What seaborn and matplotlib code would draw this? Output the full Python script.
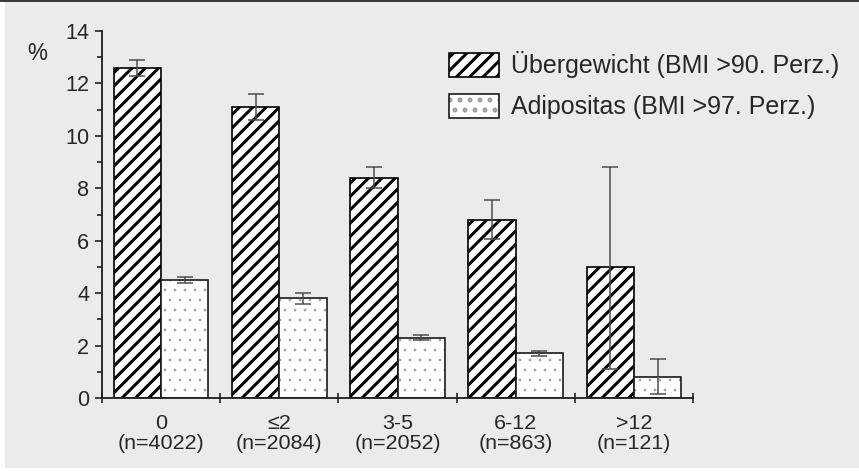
import matplotlib
matplotlib.use("Agg")
import matplotlib.pyplot as plt
from matplotlib.patches import Patch, Rectangle
from matplotlib.legend_handler import HandlerTuple
from matplotlib.ticker import MultipleLocator, FixedLocator
import numpy as np
import pandas as pd
import seaborn as sns

# Dauer (Jahre) und Fallzahlen
categories = ["0", "≤2", "3-5", "6-12", ">12"]
n_counts = [4022, 2084, 2052, 863, 121]
series_names = ["Übergewicht (BMI >90. Perz.)", "Adipositas (BMI >97. Perz.)"]

uebergewicht = [12.6, 11.1, 8.4, 6.8, 5.0]
uebergewicht_lo = [12.3, 10.6, 8.0, 6.05, 1.1]
uebergewicht_hi = [12.9, 11.6, 8.8, 7.55, 8.8]

adipositas = [4.5, 3.8, 2.3, 1.7, 0.8]
adipositas_lo = [4.4, 3.6, 2.2, 1.6, 0.15]
adipositas_hi = [4.6, 4.0, 2.4, 1.8, 1.48]

tick_labels = [f"{c}\n(n={n})" for c, n in zip(categories, n_counts)]

sns.set_style("ticks")
plt.rcParams["font.family"] = ["Liberation Sans", "DejaVu Sans"]
plt.rcParams["hatch.linewidth"] = 1.8

DOT_GREY = "#a2a2a2"
DOT_LW = 0.45


def thin_hatch(patch, lw):
    if hasattr(patch, "set_hatch_linewidth"):
        patch.set_hatch_linewidth(lw)
    else:
        patch._hatch_linewidth = lw


DPI = 120
fig = plt.figure(figsize=(859 / DPI, 471 / DPI), dpi=DPI, facecolor="white")

# grey panel with dark top rule
fig.patches.append(Rectangle((5 / 859, 3 / 471), 1 - 5 / 859, 1 - 5 / 471,
                             transform=fig.transFigure, facecolor="#ebebeb",
                             edgecolor="none", zorder=-10))
fig.patches.append(Rectangle((0, 1 - 2 / 471), 1, 2 / 471,
                             transform=fig.transFigure, facecolor="#3a3a3a",
                             edgecolor="none", zorder=-9))

ax = fig.add_axes([102 / 859, 1 - 398 / 471, (693 - 102) / 859, (398 - 31) / 471])
ax.set_facecolor("none")

df = pd.DataFrame({
    "Dauer": tick_labels * 2,
    "Prozent": uebergewicht + adipositas,
    "Gruppe": [series_names[0]] * 5 + [series_names[1]] * 5,
})

sns.barplot(data=df, x="Dauer", y="Prozent", hue="Gruppe", order=tick_labels,
            hue_order=series_names, palette=["white", "white"], errorbar=None,
            width=0.8, gap=0, legend=False, ax=ax, saturation=1)

hatched, dotted = ax.containers[0], ax.containers[1]
for p in hatched:
    p.set_hatch("///")
    p.set_edgecolor("black")
    p.set_linewidth(1.0)
for p in dotted:
    p.set_hatch("..")
    p.set_edgecolor(DOT_GREY)
    p.set_linewidth(0)
    thin_hatch(p, DOT_LW)
    outline = Rectangle(p.get_xy(), p.get_width(), p.get_height(), fill=False,
                        edgecolor="#1a1a1a", linewidth=1.0, zorder=p.get_zorder() + 0.1)
    ax.add_patch(outline)

# error bars
for cont, vals, lo, hi in [(hatched, uebergewicht, uebergewicht_lo, uebergewicht_hi),
                           (dotted, adipositas, adipositas_lo, adipositas_hi)]:
    xs = [p.get_x() + p.get_width() / 2 for p in cont]
    v = np.array(vals)
    yerr = [v - np.array(lo), np.array(hi) - v]
    ax.errorbar(xs, v, yerr=yerr, fmt="none", ecolor="#4a4a4a", elinewidth=0.9,
                capsize=5, capthick=0.9, zorder=5)

ax.set_xlim(-0.5, 4.5)
ax.set_ylim(0, 14)
ax.set_xlabel("")
ax.set_ylabel("")
sns.despine(ax=ax)
for s in ["left", "bottom"]:
    ax.spines[s].set_linewidth(1.1)
    ax.spines[s].set_color("#222222")

ax.yaxis.set_major_locator(MultipleLocator(2))
ax.yaxis.set_minor_locator(MultipleLocator(1))
ax.tick_params(axis="y", which="major", length=4.5, width=1.0, labelsize=13,
               pad=3, color="#222222")
ax.tick_params(axis="y", which="minor", length=2.8, width=1.0, color="#222222")

ax.xaxis.set_minor_locator(FixedLocator(np.arange(-0.5, 5.0, 1.0)))
ax.tick_params(axis="x", which="major", length=0, labelsize=12.9, pad=9.5)
ax.tick_params(axis="x", which="minor", length=5.5, width=1.0, direction="inout",
               color="#222222")
for lab in ax.get_xticklabels():
    lab.set_linespacing(1.1)

fig.text(27 / 859, 1 - 54 / 471, "%", fontsize=13.5, va="center", ha="left")

# legend
h1 = Patch(facecolor="white", edgecolor="black", hatch="///", linewidth=1.0)
h2a = Patch(facecolor="white", edgecolor=DOT_GREY, hatch="..", linewidth=0)
thin_hatch(h2a, DOT_LW)
h2b = Patch(facecolor="none", edgecolor="#1a1a1a", linewidth=1.0)
fig.legend([h1, (h2a, h2b)], series_names, loc="upper left",
           bbox_to_anchor=(449 / 859, 1 - 51 / 471), frameon=False, fontsize=15,
           handlelength=2.0, handleheight=1.1, handletextpad=0.48,
           labelspacing=0.62, borderpad=0, borderaxespad=0,
           handler_map={tuple: HandlerTuple(ndivide=1, pad=0)})

fig.savefig("out.png", dpi=DPI, facecolor=fig.get_facecolor())
